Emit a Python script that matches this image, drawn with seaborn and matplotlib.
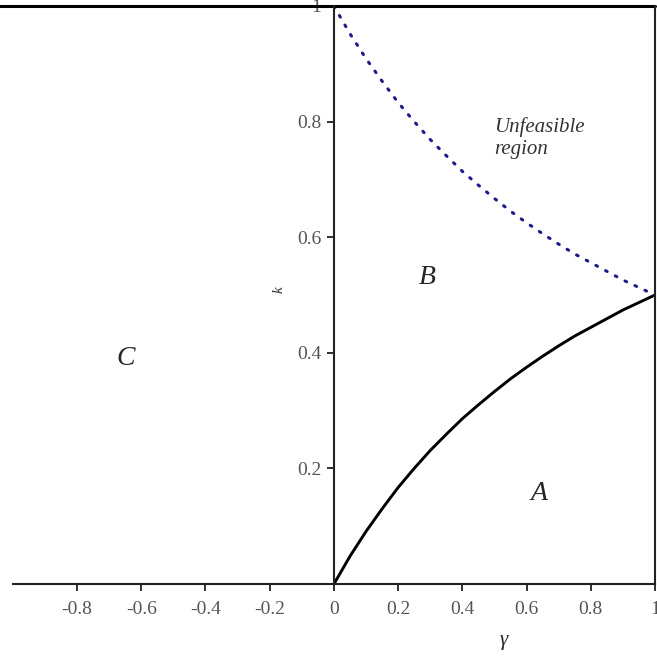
import matplotlib
matplotlib.use("Agg")
import matplotlib.pyplot as plt
import seaborn as sns
import pandas as pd
from matplotlib.ticker import MultipleLocator

# values
gamma = [0.0, 0.05, 0.1, 0.15, 0.2, 0.25, 0.3, 0.35, 0.4, 0.45, 0.5,
         0.55, 0.6, 0.65, 0.7, 0.75, 0.8, 0.85, 0.9, 0.95, 1.0]
k_lower = [0.0, 0.048, 0.091, 0.130, 0.167, 0.200, 0.231, 0.259, 0.286, 0.310, 0.333,
           0.355, 0.375, 0.394, 0.412, 0.429, 0.444, 0.459, 0.474, 0.487, 0.5]
k_upper = [1.0, 0.952, 0.909, 0.870, 0.833, 0.800, 0.769, 0.741, 0.714, 0.690, 0.667,
           0.645, 0.625, 0.606, 0.588, 0.571, 0.556, 0.541, 0.526, 0.513, 0.5]
x_ticks = [-0.8, -0.6, -0.4, -0.2, 0, 0.2, 0.4, 0.6, 0.8, 1]
y_ticks = [0.2, 0.4, 0.6, 0.8, 1]
regions = ["C", "B", "A"]
region_x = [-0.65, 0.29, 0.64]
region_y = [0.39, 0.53, 0.157]

df = pd.DataFrame({"gamma": gamma, "lower": k_lower, "upper": k_upper})

sns.set_style("white")
plt.rcParams['font.family'] = ['Liberation Serif', 'DejaVu Serif']

fig = plt.figure(figsize=(6.57, 6.59), dpi=100)
ax = fig.add_axes([0.0, 75 / 659, 655 / 657, 578 / 659])

sns.lineplot(data=df, x="gamma", y="lower", ax=ax, color="black", linewidth=2.1)
sns.lineplot(data=df, x="gamma", y="upper", ax=ax, color="#1c1c8a", linewidth=2.2,
             linestyle=(0, (0.6, 3.0)), dash_capstyle="round")

ax.set_xlim(-1.04, 1.0)
ax.set_ylim(0, 1)

# axes crossing at the origin, Maple style
ax.spines["top"].set_visible(False)
ax.spines["left"].set_position(("data", 0))
ax.spines["bottom"].set_position(("data", 0))
ax.spines["bottom"].set_bounds(-1, 1)
ax.spines["left"].set_bounds(0, 1)
for side in ["left", "bottom", "right"]:
    ax.spines[side].set_color("#222222")
    ax.spines[side].set_linewidth(1.5)
ax.axhline(1, color="black", linewidth=2.2, clip_on=False)

ax.set_xticks(x_ticks)
ax.set_xticklabels(["-0.8", "-0.6", "-0.4", "-0.2", "0", "0.2", "0.4", "0.6", "0.8", "1"])
ax.set_yticks(y_ticks)
ax.set_yticklabels(["0.2", "0.4", "0.6", "0.8", "1"])
ax.xaxis.set_minor_locator(MultipleLocator(0.1))
ax.yaxis.set_minor_locator(MultipleLocator(0.1))
ax.tick_params(axis="both", which="major", direction="out", length=5, width=1.3,
               color="#222222", labelsize=14, labelcolor="#555555")
ax.tick_params(axis="x", which="major", pad=7)
ax.tick_params(axis="y", which="major", pad=4)
ax.tick_params(axis="both", which="minor", direction="out", length=3, width=1.1,
               color="#222222")
ax.tick_params(axis="x", bottom=True)
ax.tick_params(axis="y", left=True)
ax.set_xlabel("")
ax.set_ylabel("")

ax.text(0.53, -0.097, "γ", fontsize=15, style="italic", ha="center", va="center")
ax.text(-0.17, 0.51, "k", fontsize=11, style="italic", ha="center", va="center",
        rotation=90, color="#333333")

for name, x, y in zip(regions, region_x, region_y):
    ax.text(x, y, name, fontsize=20, style="italic", ha="center", va="center")

ax.text(0.50, 0.771, "Unfeasible\nregion", fontsize=15, style="italic",
        ha="left", va="center", color="#333333", linespacing=1.2)

fig.savefig("out.png", dpi=100)
